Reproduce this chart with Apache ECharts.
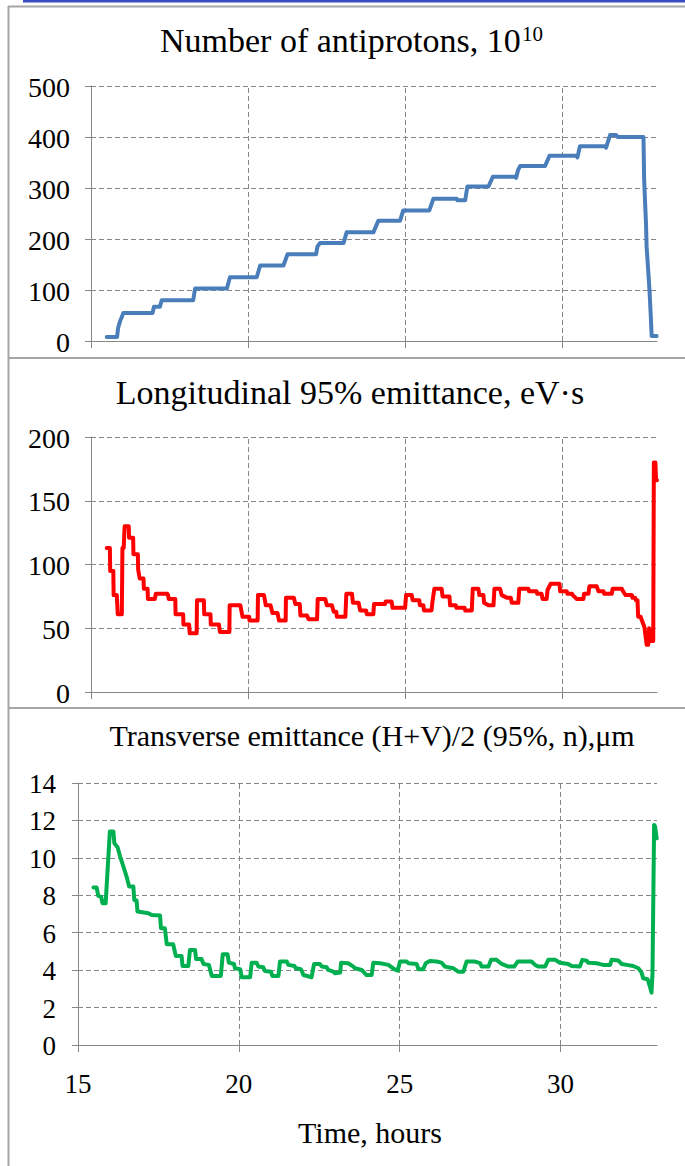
<!DOCTYPE html>
<html><head><meta charset="utf-8">
<script src="https://cdn.jsdelivr.net/npm/echarts@6/dist/echarts.min.js"></script>
<style>html,body{margin:0;padding:0;background:#fff}#c{width:685px;height:1166px}</style>
</head><body><div id="c"></div>
<script>
// ---- data ----
const xTicks = [15, 20, 25, 30];
const panelTitles = ['Number of antiprotons, 10', 'Longitudinal 95% emittance, eV·s', 'Transverse emittance (H+V)/2 (95%, n),μm'];
const superscript = '10';
const xAxisTitle = 'Time, hours';

// time (hours), antiprotons (1e10)
const antiprotons = [[15.50,8],[15.83,8],[15.86,25],[15.92,38],[16.03,55],[16.96,55],[17.00,67],[17.19,67],[17.25,80],[18.25,80],[18.31,103],[19.32,103],[19.42,125],[20.27,125],[20.38,148],[21.12,148],[21.25,170],[22.16,170],[22.20,185],[22.28,192],[23.03,192],[23.13,213],[23.98,213],[24.14,236],[24.83,236],[24.93,256],[25.76,256],[25.89,279],[26.63,279],[26.65,276],[26.90,276],[26.97,303],[27.64,303],[27.78,322],[28.49,322],[28.52,320],[28.58,335],[28.65,343],[29.44,343],[29.58,363],[30.45,363],[30.47,360],[30.55,382],[31.35,382],[31.38,379],[31.51,404],[31.70,404],[31.75,400],[32.57,400],[32.59,319],[32.62,273],[32.65,231],[32.67,185],[32.76,101],[32.80,52],[32.83,10],[32.99,10]];

// time (hours), longitudinal 95% emittance (eV·s)
const longEmittance = [[15.50,113],[15.60,113],[15.61,95],[15.71,95],[15.72,76],[15.82,76],[15.85,61],[15.98,61],[16.00,113],[16.04,113],[16.07,130],[16.20,130],[16.21,121],[16.34,121],[16.35,108],[16.49,108],[16.50,96],[16.55,89],[16.67,89],[16.68,81],[16.80,81],[16.81,73],[17.03,73],[17.06,77],[17.43,77],[17.45,76],[17.47,73],[17.68,73],[17.69,61],[17.93,61],[17.94,53],[18.12,53],[18.14,46],[18.36,46],[18.37,72],[18.59,72],[18.60,61],[18.80,61],[18.81,53],[19.07,53],[19.10,47],[19.40,47],[19.41,68],[19.75,68],[19.82,59],[20.03,59],[20.04,56],[20.30,56],[20.31,76],[20.50,76],[20.56,68],[20.71,68],[20.77,62],[20.93,62],[20.98,56],[21.19,56],[21.20,74],[21.45,74],[21.50,69],[21.64,69],[21.66,60],[21.87,60],[21.92,57],[22.19,57],[22.21,73],[22.45,73],[22.50,68],[22.66,68],[22.72,63],[22.80,63],[22.82,59],[23.09,59],[23.12,77],[23.30,77],[23.33,70],[23.51,70],[23.56,64],[23.75,64],[23.77,61],[23.98,61],[24.00,69],[24.35,69],[24.37,71],[24.56,71],[24.59,66],[24.99,66],[25.02,76],[25.20,76],[25.23,72],[25.44,72],[25.46,68],[25.57,68],[25.59,64],[25.83,64],[25.86,71],[25.92,81],[26.15,81],[26.18,75],[26.40,75],[26.42,68],[26.60,68],[26.62,66],[26.88,66],[26.90,64],[27.11,64],[27.14,81],[27.32,81],[27.35,76],[27.48,76],[27.50,70],[27.64,68],[27.80,68],[27.83,81],[28.01,81],[28.06,76],[28.22,74],[28.35,74],[28.38,70],[28.59,70],[28.62,81],[28.91,81],[28.93,79],[29.17,79],[29.19,77],[29.33,77],[29.36,73],[29.49,73],[29.52,80],[29.62,85],[29.90,85],[29.92,79],[30.13,79],[30.15,77],[30.30,77],[30.32,76],[30.45,73],[30.66,73],[30.68,77],[30.82,77],[30.85,83],[31.08,83],[31.14,79],[31.30,79],[31.32,77],[31.56,77],[31.59,81],[31.88,81],[31.92,79],[32.00,76],[32.20,76],[32.22,74],[32.30,74],[32.33,72],[32.38,72],[32.40,59],[32.48,59],[32.52,56],[32.60,51],[32.67,37],[32.72,37],[32.75,50],[32.78,40],[32.88,40],[32.90,180],[32.93,175],[32.95,180],[32.97,166],[33.00,166]];

// time (hours), transverse emittance (μm)
const transEmittance = [[15.48,8.41],[15.58,8.41],[15.63,7.97],[15.72,7.93],[15.76,7.58],[15.86,7.58],[15.99,11.41],[16.10,11.41],[16.13,10.78],[16.23,10.57],[16.31,10.07],[16.41,9.54],[16.51,9.00],[16.59,8.47],[16.72,8.47],[16.75,7.75],[16.82,7.72],[16.85,7.13],[17.19,7.04],[17.29,6.95],[17.55,6.92],[17.58,6.24],[17.70,6.24],[17.76,5.38],[17.96,5.38],[18.04,4.76],[18.22,4.76],[18.25,4.22],[18.43,4.22],[18.48,5.08],[18.64,5.08],[18.67,4.60],[18.84,4.60],[18.90,4.33],[19.07,4.28],[19.16,3.69],[19.44,3.69],[19.50,4.85],[19.65,4.85],[19.69,4.40],[19.85,4.33],[19.88,4.10],[20.04,4.05],[20.09,3.62],[20.35,3.62],[20.40,4.40],[20.55,4.40],[20.61,4.19],[20.76,4.15],[20.81,3.96],[21.00,3.92],[21.04,3.69],[21.23,3.69],[21.28,4.46],[21.49,4.46],[21.54,4.28],[21.73,4.22],[21.77,4.10],[21.93,4.05],[22.01,3.74],[22.26,3.62],[22.34,4.33],[22.52,4.33],[22.58,4.19],[22.73,4.15],[22.78,4.01],[22.94,3.92],[22.99,3.83],[23.15,3.87],[23.18,4.40],[23.40,4.37],[23.56,4.19],[23.61,4.10],[23.82,4.01],[23.97,3.74],[24.13,3.74],[24.18,4.40],[24.39,4.37],[24.65,4.28],[24.83,4.05],[24.94,3.97],[25.01,4.46],[25.22,4.46],[25.27,4.37],[25.53,4.33],[25.58,4.05],[25.73,4.05],[25.81,4.37],[25.94,4.49],[26.15,4.46],[26.30,4.40],[26.41,4.19],[26.67,4.10],[26.82,3.92],[26.98,3.92],[27.08,4.46],[27.34,4.46],[27.50,4.37],[27.55,4.19],[27.76,4.19],[27.84,4.55],[28.01,4.55],[28.17,4.33],[28.38,4.19],[28.56,4.19],[28.67,4.46],[29.10,4.46],[29.21,4.28],[29.31,4.19],[29.52,4.19],[29.62,4.55],[29.83,4.55],[29.98,4.40],[30.24,4.33],[30.35,4.22],[30.60,4.19],[30.68,4.55],[30.81,4.51],[30.86,4.40],[31.12,4.37],[31.33,4.28],[31.54,4.28],[31.59,4.55],[31.80,4.51],[31.90,4.33],[32.06,4.28],[32.26,4.22],[32.42,4.10],[32.52,3.87],[32.57,3.57],[32.71,3.51],[32.78,3.12],[32.83,2.80],[32.86,3.83],[32.91,11.76],[32.94,11.68],[32.99,11.05]];

const yMax = [500, 200, 14];
const yStep = [100, 50, 2];

// ---- chart ----
const FONT = '"Liberation Serif", "Times New Roman", serif';
const GRAY = '#868686';
const chart = echarts.init(document.getElementById('c'), null, {renderer: 'svg'});

const grids = [
  {left: 91, top: 86, width: 566, height: 255},
  {left: 91, top: 437, width: 566, height: 255},
  {left: 78, top: 783, width: 579, height: 262}
];
const labelSize = [28, 28, 27];
const labelGap = [21, 21, 22];

const xAxes = grids.map((g, i) => ({
  type: 'value', gridIndex: i, min: 15, max: 33, interval: 5,
  axisLine: {show: true, lineStyle: {color: GRAY, width: 1}},
  axisTick: {show: true, length: 7, inside: false, customValues: xTicks, lineStyle: {color: GRAY}},
  axisLabel: {show: false},
  splitLine: {show: false}
}));
const yAxes = grids.map((g, i) => ({
  type: 'value', gridIndex: i, min: 0, max: yMax[i], interval: yStep[i],
  axisLine: {show: true, lineStyle: {color: GRAY, width: 1}},
  axisTick: {show: true, length: 6, lineStyle: {color: GRAY}},
  axisLabel: {show: false},
  splitLine: {show: true, lineStyle: {color: GRAY, type: [5, 3], width: 1}}
}));

function lineSeries(data, i, color) {
  return {type: 'line', xAxisIndex: i, yAxisIndex: i, data: data, showSymbol: false, symbol: 'none', z: 3,
    lineStyle: {color: color, width: 4, cap: 'round', join: 'round'}, itemStyle: {color: color}, silent: true};
}
// vertical dashed grid lines at the x ticks (drawn through the axis scale)
function gridSeries(i) {
  return {type: 'line', xAxisIndex: i, yAxisIndex: i, data: [], z: 1, silent: true,
    markLine: {silent: true, z: 1, symbol: ['none', 'none'], animation: false, label: {show: false},
      lineStyle: {color: GRAY, type: [5, 3], width: 1},
      emphasis: {disabled: true},
      data: xTicks.slice(1).map(v => ({xAxis: v}))}};
}

function txt(x, y, text, size, align) {
  return {type: 'text', x: x, y: y, silent: true, style: {text: String(text), font: size + 'px ' + FONT, fontSize: size, fontFamily: FONT, fill: '#000',
    align: align || 'center', verticalAlign: 'middle', textAlign: align || 'center', textVerticalAlign: 'middle'}};
}
const FRAME = '#a6a6a6';
const staticGraphic = [
  {type: 'rect', shape: {x: 23, y: 0, width: 662, height: 2.5}, style: {fill: '#3b4cc4'}, silent: true},
  {type: 'line', shape: {x1: 8.5, y1: 6, x2: 8.5, y2: 1166}, style: {stroke: FRAME, lineWidth: 2}, silent: true},
  {type: 'line', shape: {x1: 8, y1: 6.5, x2: 685, y2: 6.5}, style: {stroke: FRAME, lineWidth: 2}, silent: true},
  {type: 'line', shape: {x1: 8, y1: 358, x2: 685, y2: 358}, style: {stroke: FRAME, lineWidth: 2}, silent: true},
  {type: 'line', shape: {x1: 8, y1: 708, x2: 685, y2: 708}, style: {stroke: FRAME, lineWidth: 2}, silent: true},
  txt(160, 40.5, panelTitles[0], 34, 'left'),
  txt(522, 34, superscript, 21, 'left'),
  txt(350, 392.5, panelTitles[1], 34),
  txt(372, 735, panelTitles[2], 30),
  txt(370, 1132, xAxisTitle, 30)
];

chart.setOption({
  animation: false,
  backgroundColor: '#fff',
  grid: grids,
  xAxis: xAxes,
  yAxis: yAxes,
  series: [
    gridSeries(0), gridSeries(1), gridSeries(2),
    lineSeries(antiprotons, 0, '#4A7EBB'),
    lineSeries(longEmittance, 1, '#FF0000'),
    lineSeries(transEmittance, 2, '#00B050')
  ]
});

// tick labels placed through the axes' own scales (serif font)
const tickLabels = [];
grids.forEach((g, i) => {
  for (let v = 0; v <= yMax[i]; v += yStep[i]) {
    const p = chart.convertToPixel({gridIndex: i}, [15, v]);
    tickLabels.push(txt(p[0] - labelGap[i], p[1] + 1, v, labelSize[i], 'right'));
  }
});
xTicks.forEach(t => {
  const p = chart.convertToPixel({gridIndex: 2}, [t, 0]);
  tickLabels.push(txt(p[0], p[1] + 39, t, 27, 'center'));
});

chart.setOption({graphic: staticGraphic.concat(tickLabels)});
</script></body></html>
